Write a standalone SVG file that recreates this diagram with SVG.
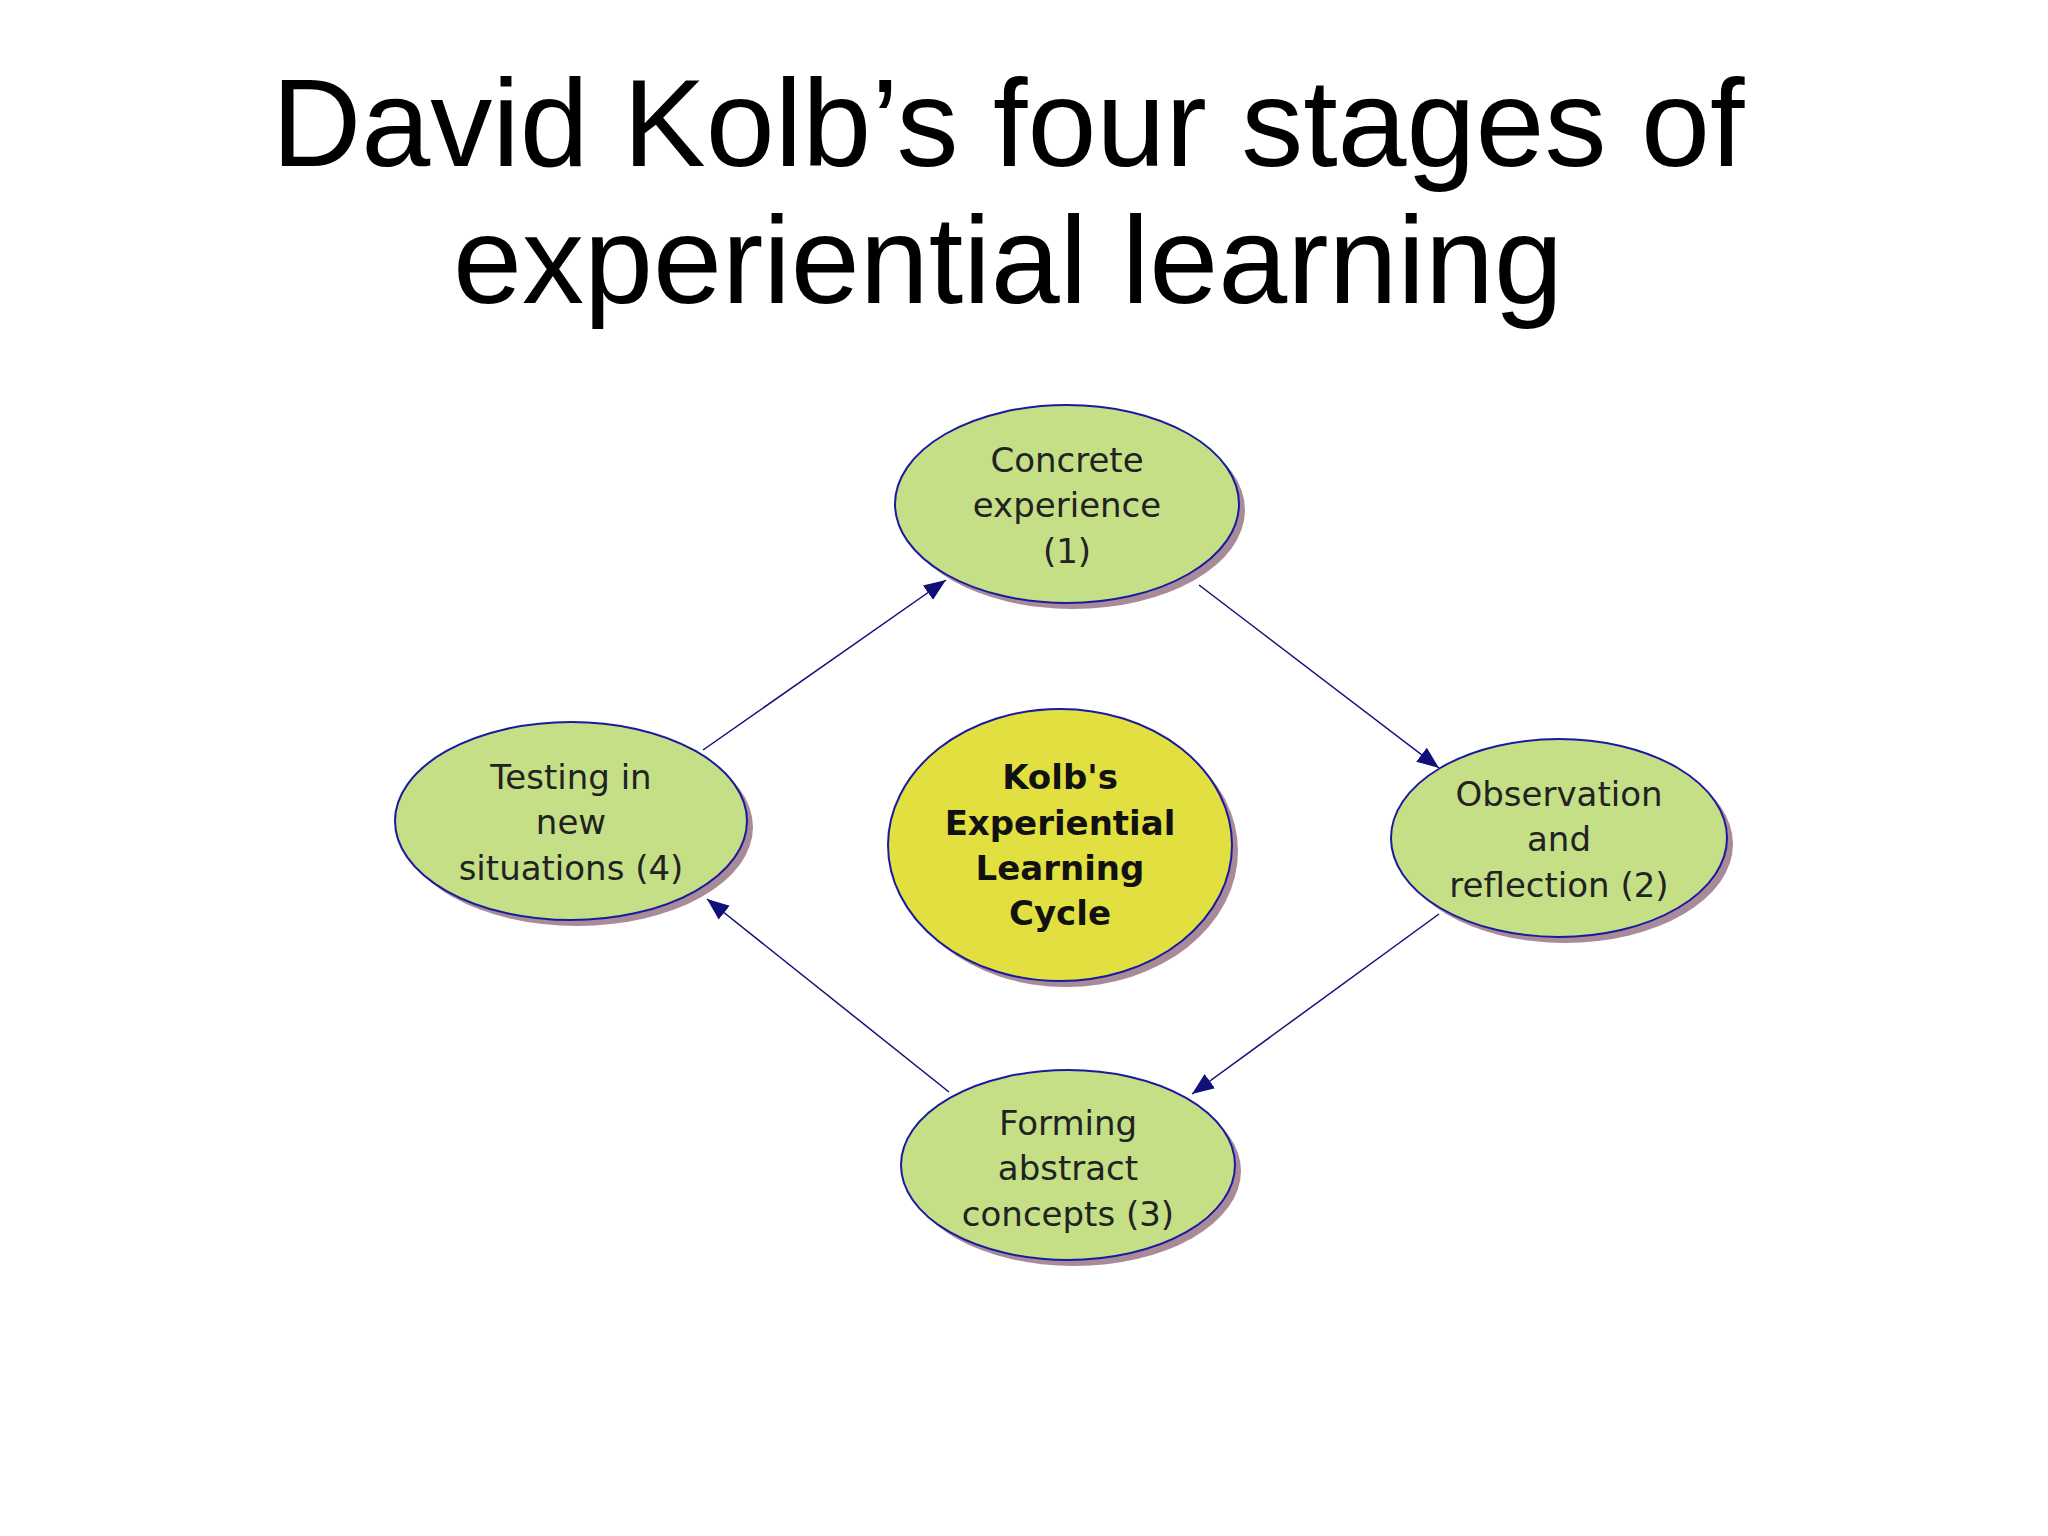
<svg xmlns="http://www.w3.org/2000/svg" width="2048" height="1536" viewBox="0 0 2048 1536">
<defs>
<style>
.t{font-family:"Liberation Sans",Arial,sans-serif;font-size:124px;fill:#000;text-anchor:middle}
.n{fill:#c4df86;stroke:#1a1aa0;stroke-width:2}
.c{fill:#e2e040;stroke:#1a1aa0;stroke-width:2}
.s{fill:#a88a98}
.l{font-family:"DejaVu Sans",Verdana,sans-serif;font-size:34px;fill:#222;text-anchor:middle}
.b{font-family:"DejaVu Sans",Verdana,sans-serif;font-size:34px;font-weight:bold;fill:#111;text-anchor:middle}
.e{stroke:#10107a;stroke-width:1.5;fill:none;marker-end:url(#a)}
</style>
<marker id="a" viewBox="0 0 10 10" refX="10" refY="5" markerWidth="22" markerHeight="22" markerUnits="userSpaceOnUse" orient="auto"><path d="M0,1 L10,5 L0,9 Z" fill="#10107a"/></marker>
</defs>
<rect width="2048" height="1536" fill="#fff"/>
<text class="t" x="1008" y="166">David Kolb’s four stages of</text>
<text class="t" x="1008" y="303">experiential learning</text>
<g id="connectors">
<line class="e" x1="703" y1="750" x2="946" y2="580"/>
<line class="e" x1="1199" y1="585" x2="1439" y2="768"/>
<line class="e" x1="1439" y1="914" x2="1192" y2="1094"/>
<line class="e" x1="949" y1="1092" x2="707" y2="899"/>
</g>
<g id="n1"><ellipse class="s" cx="1073" cy="510" rx="172" ry="99"/><ellipse class="n" cx="1067" cy="504" rx="172" ry="99"/>
<text class="l" x="1067" y="472">Concrete</text><text class="l" x="1067" y="517">experience</text><text class="l" x="1067" y="563">(1)</text></g>
<g id="n2"><ellipse class="s" cx="1565" cy="844" rx="168" ry="99"/><ellipse class="n" cx="1559" cy="838" rx="168" ry="99"/>
<text class="l" x="1559" y="806">Observation</text><text class="l" x="1559" y="851">and</text><text class="l" x="1559" y="897">reflection (2)</text></g>
<g id="n3"><ellipse class="s" cx="1074" cy="1171" rx="167" ry="95"/><ellipse class="n" cx="1068" cy="1165" rx="167" ry="95"/>
<text class="l" x="1068" y="1135">Forming</text><text class="l" x="1068" y="1180">abstract</text><text class="l" x="1068" y="1226">concepts (3)</text></g>
<g id="n4"><ellipse class="s" cx="577" cy="827" rx="176" ry="99"/><ellipse class="n" cx="571" cy="821" rx="176" ry="99"/>
<text class="l" x="571" y="789">Testing in</text><text class="l" x="571" y="834">new</text><text class="l" x="571" y="880">situations (4)</text></g>
<g id="center"><ellipse class="s" cx="1066" cy="851" rx="172" ry="136"/><ellipse class="c" cx="1060" cy="845" rx="172" ry="136"/>
<text class="b" x="1060" y="789">Kolb's</text><text class="b" x="1060" y="835">Experiential</text><text class="b" x="1060" y="880">Learning</text><text class="b" x="1060" y="925">Cycle</text></g>
</svg>
